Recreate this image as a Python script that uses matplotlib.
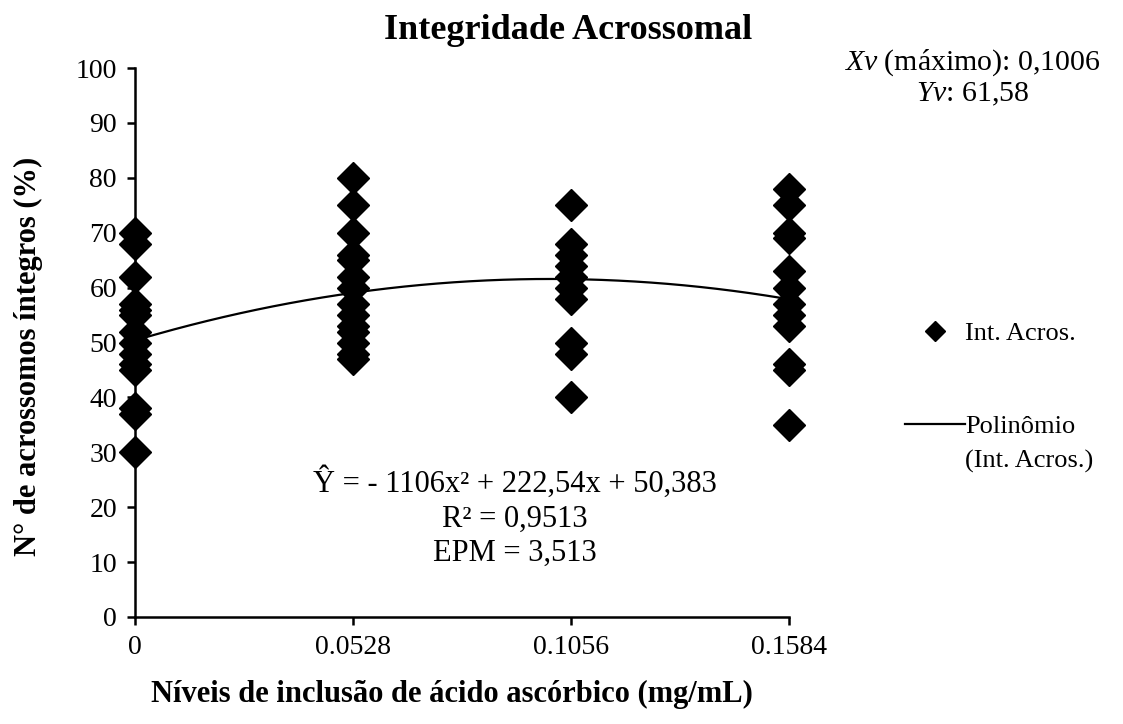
import numpy as np
import matplotlib
matplotlib.use("Agg")
import matplotlib.pyplot as plt

plt.rcParams['font.family'] = ['Liberation Serif', 'DejaVu Serif']
plt.rcParams['mathtext.fontset'] = 'custom'
plt.rcParams['mathtext.rm'] = 'Liberation Serif'
plt.rcParams['mathtext.it'] = 'Liberation Serif:italic'

# Data
levels = [0.0, 0.0528, 0.1056, 0.1584]
tick_labels = ["0", "0.0528", "0.1056", "0.1584"]
vals_0 = [70, 68, 62, 57, 56, 55, 52, 50, 48, 46, 45, 38, 37, 30]
vals_1 = [80, 75, 70, 66, 65, 62, 60, 57, 55, 53, 52, 50, 48, 47]
vals_2 = [75, 68, 66, 64, 62, 60, 58, 50, 48, 40]
vals_3 = [78, 75, 70, 69, 63, 60, 57, 55, 53, 46, 45, 35]
coef_a, coef_b, coef_c = -1106.0, 222.54, 50.383

groups = [vals_0, vals_1, vals_2, vals_3]
xs = np.concatenate([[lv] * len(g) for lv, g in zip(levels, groups)])
ys = np.concatenate(groups)

fig = plt.figure(figsize=(11.23, 7.24), dpi=100)
ax = fig.add_axes([0.1202, 0.1478, 0.5824, 0.7582])

ax.plot(xs, ys, linestyle='none', marker='D', markersize=16, color='black',
        clip_on=False, zorder=3, label='Int. Acros.')
xc = np.linspace(levels[0], levels[-1], 200)
ax.plot(xc, coef_a * xc**2 + coef_b * xc + coef_c, color='black', lw=1.6,
        clip_on=False, zorder=2, label='Polinômio')

ax.set_xlim(0, 0.1584)
ax.set_ylim(0, 100)
ax.set_xticks(levels)
ax.set_xticklabels(tick_labels)
ax.set_yticks(np.arange(0, 101, 10))
for s in ['top', 'right']:
    ax.spines[s].set_visible(False)
for s in ['left', 'bottom']:
    ax.spines[s].set_linewidth(1.8)
ax.tick_params(axis='both', direction='out', length=6, width=1.8, labelsize=20, pad=7)

fig.text(0.506, 0.958, 'Integridade Acrossomal', ha='center', va='center',
         fontsize=26, fontweight='bold')
ax.set_xlabel('Níveis de inclusão de ácido ascórbico (mg/mL)', fontsize=22,
              fontweight='bold', va='center')
ax.xaxis.set_label_coords(0.485, -0.142)
ax.set_ylabel('N° de acrossomos íntegros (%)', fontsize=22, fontweight='bold', va='center')
ax.yaxis.set_label_coords(-0.163, 0.474)

ax.text(0.092, 18.2, 'Ŷ = - 1106x² + 222,54x + 50,383\nR² = 0,9513\nEPM = 3,513',
        ha='center', va='center', fontsize=22, linespacing=1.25)

fig.text(0.866, 0.914, r'$\mathit{Xv}$ (máximo): 0,1006', ha='center', va='center', fontsize=21.5)
fig.text(0.866, 0.869, r'$\mathit{Yv}$: 61,58', ha='center', va='center', fontsize=21.5)

leg = ax.legend(loc='upper left', bbox_to_anchor=(0.806, 0.556), bbox_transform=fig.transFigure,
                frameon=False, fontsize=19, handlelength=2.27, handletextpad=0.0,
                labelspacing=2.65, markerscale=0.65, borderaxespad=0, borderpad=0)
fig.text(0.859, 0.362, '(Int. Acros.)', ha='left', va='center', fontsize=19)

fig.savefig('out.png', dpi=100)
